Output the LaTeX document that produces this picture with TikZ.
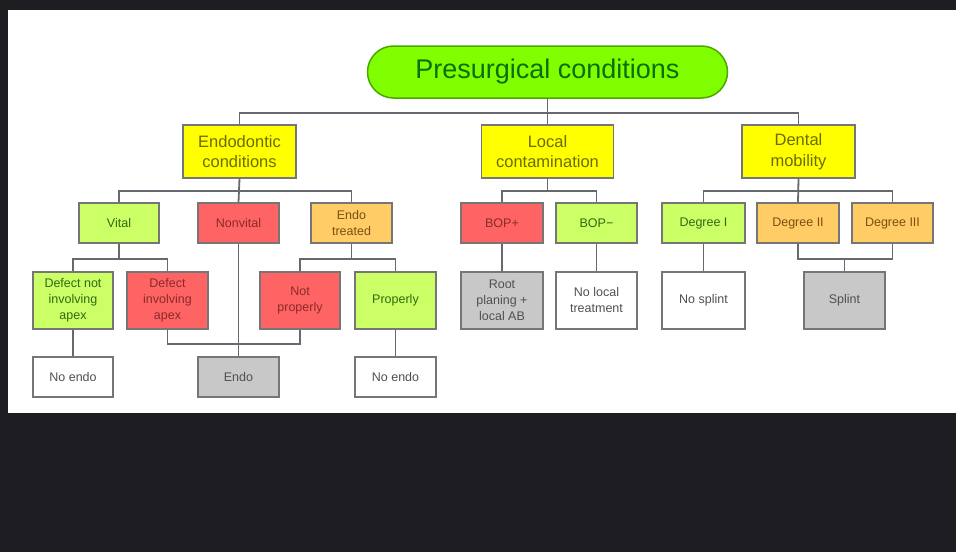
\documentclass[tikz,border=0pt]{standalone}
\usepackage{fontspec}
\setmainfont{Liberation Sans}
\definecolor{bgdark}{HTML}{1E1E22}
\definecolor{titlefill}{HTML}{80FF00}
\definecolor{titleborder}{HTML}{4CA600}
\definecolor{titletext}{HTML}{0A6E0A}
\definecolor{yel}{HTML}{FFFF00}
\definecolor{yeltext}{HTML}{6B6B00}
\definecolor{lgreen}{HTML}{CCFF66}
\definecolor{lgreentext}{HTML}{2F6A10}
\definecolor{redf}{HTML}{FF6464}
\definecolor{redtext}{HTML}{8A2A2A}
\definecolor{orf}{HTML}{FFCC66}
\definecolor{ortext}{HTML}{7A5010}
\definecolor{grayf}{HTML}{C8C8C8}
\definecolor{graytext}{HTML}{505050}
\definecolor{boxborder}{HTML}{767676}
\definecolor{linec}{HTML}{686870}
\tikzset{
  basebox/.style={draw=boxborder, line width=1.5pt, rectangle, align=center, inner sep=0pt},
  lvlone/.style={basebox, fill=yel, text=yeltext, minimum height=53pt, font=\fontsize{16.5}{20.5}\selectfont},
  smallbox/.style={basebox, font=\fontsize{12.5}{16}\selectfont},
  hlgreen/.style={smallbox, fill=lgreen, text=lgreentext},
  hred/.style={smallbox, fill=redf, text=redtext},
  horange/.style={smallbox, fill=orf, text=ortext},
  hgray/.style={smallbox, fill=grayf, text=graytext},
  hwhite/.style={smallbox, fill=white, text=graytext},
  conn/.style={draw=linec, line width=1.8pt}
}
\begin{document}
\begin{tikzpicture}[x=1pt,y=-1pt]
\useasboundingbox (0,0) rectangle (956,552);
\fill[bgdark] (0,0) rectangle (956,552);
\fill[white] (8,10) rectangle (956,413);
% title
\node[draw=titleborder, line width=1.5pt, fill=titlefill, text=titletext, rounded corners=26pt,
      minimum width=360pt, minimum height=52pt, inner sep=0pt,
      font=\fontsize{27}{32}\selectfont] (title) at (547.5,72) {Presurgical conditions};
% level 1
\node[lvlone, minimum width=113pt] (endoc) at (239.5,151.5) {Endodontic\\conditions};
\node[lvlone, minimum width=132pt] (localc) at (547.5,151.5) {Local\\contamination};
\node[lvlone, minimum width=113pt] (mobc) at (798.5,151.5) {Dental\\mobility};
% level 2
\node[hlgreen, minimum width=80pt, minimum height=40pt] (vital) at (119,223) {Vital};
\node[hred, minimum width=81pt, minimum height=40pt] (nonvital) at (238.5,223) {Nonvital};
\node[horange, minimum width=81pt, minimum height=40pt] (endot) at (351.5,223) {Endo\\treated};
\node[hred, minimum width=82pt, minimum height=40pt] (bopp) at (502,223) {BOP+};
\node[hlgreen, minimum width=81pt, minimum height=40pt] (bopm) at (596.5,223) {BOP−};
\node[hlgreen, minimum width=83pt, minimum height=40pt] (dega) at (703.5,223) {Degree I};
\node[horange, minimum width=82pt, minimum height=40pt] (degb) at (798,223) {Degree II};
\node[horange, minimum width=81pt, minimum height=40pt] (degc) at (892.5,223) {Degree III};
% level 3
\node[hlgreen, minimum width=80pt, minimum height=57pt] (dna) at (73,300.5) {Defect not\\involving\\apex};
\node[hred, minimum width=81pt, minimum height=57pt] (dia) at (167.5,300.5) {Defect\\involving\\apex};
\node[hred, minimum width=80pt, minimum height=57pt] (notp) at (300,300.5) {Not\\properly};
\node[hlgreen, minimum width=81pt, minimum height=57pt] (prop) at (395.5,300.5) {Properly};
\node[hgray, minimum width=82pt, minimum height=57pt] (root) at (502,300.5) {Root\\planing +\\local AB};
\node[hwhite, minimum width=81pt, minimum height=57pt] (noloc) at (596.5,300.5) {No local\\treatment};
\node[hwhite, minimum width=83pt, minimum height=57pt] (nosplint) at (703.5,300.5) {No splint};
\node[hgray, minimum width=81pt, minimum height=57pt] (splint) at (844.5,300.5) {Splint};
% level 4
\node[hwhite, minimum width=80pt, minimum height=40pt] (noendoa) at (73,377) {No endo};
\node[hgray, minimum width=81pt, minimum height=40pt] (endo) at (238.5,377) {Endo};
\node[hwhite, minimum width=81pt, minimum height=40pt] (noendob) at (395.5,377) {No endo};
% connectors
\draw[conn] (title.south) -- ++(0,14) -| (endoc.north);
\draw[conn] (title.south) -- ++(0,14) -| (mobc.north);
\draw[conn] (title.south) -- (localc.north);
\draw[conn] (endoc.south) -- ++(0,12) -| (vital.north);
\draw[conn] (endoc.south) -- ++(0,12) -| (endot.north);
\draw[conn] (endoc.south) -- (nonvital.north);
\draw[conn] (localc.south) -- ++(0,12) -| (bopp.north);
\draw[conn] (localc.south) -- ++(0,12) -| (bopm.north);
\draw[conn] (mobc.south) -- ++(0,12) -| (dega.north);
\draw[conn] (mobc.south) -- ++(0,12) -| (degc.north);
\draw[conn] (mobc.south) -- (degb.north);
\draw[conn] (vital.south) -- ++(0,15) -| (dna.north);
\draw[conn] (vital.south) -- ++(0,15) -| (dia.north);
\draw[conn] (endot.south) -- ++(0,15) -| (notp.north);
\draw[conn] (endot.south) -- ++(0,15) -| (prop.north);
\draw[conn] (bopp.south) -- (root.north);
\draw[conn] (bopm.south) -- (noloc.north);
\draw[conn] (dega.south) -- (nosplint.north);
\draw[conn] (degb.south) -- ++(0,15) coordinate (jn) -| (degc.south);
\draw[conn] (splint.north) -- (splint.north |- jn);
\draw[conn] (dna.south) -- (noendoa.north);
\draw[conn] (prop.south) -- (noendob.north);
\draw[conn] (nonvital.south) -- (endo.north);
\draw[conn] (dia.south) -- ++(0,14) -| (notp.south);
\end{tikzpicture}
\end{document}
